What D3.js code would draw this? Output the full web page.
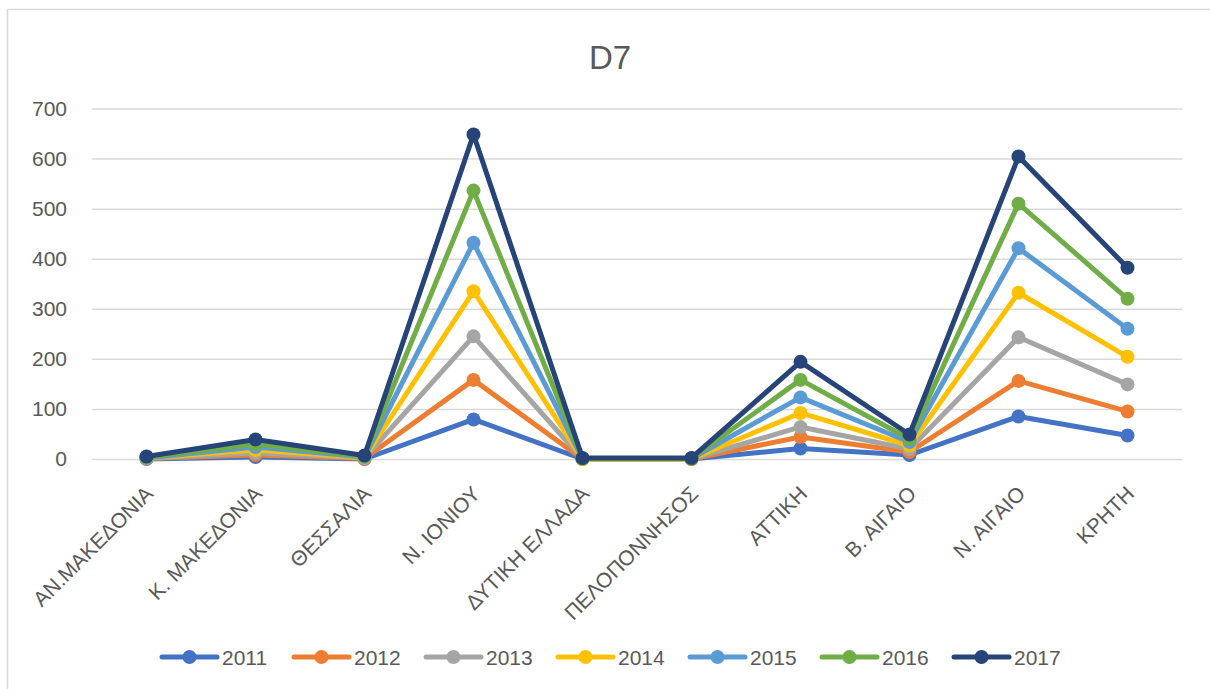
<!DOCTYPE html>
<html>
<head>
<meta charset="utf-8">
<script src="https://cdn.jsdelivr.net/npm/d3@7"></script>
<style>
  body { margin: 0; background: #fff; }
  svg { display: block; font-family: "Liberation Sans", Arial, sans-serif; }
</style>
</head>
<body>
<div id="chart"></div>
<script>
// categories (regions)
const regions = [
  "ΑΝ.ΜΑΚΕΔΟΝΙΑ", "Κ. ΜΑΚΕΔΟΝΙΑ", "ΘΕΣΣΑΛΙΑ", "Ν. ΙΟΝΙΟΥ", "ΔΥΤΙΚΗ ΕΛΛΑΔΑ",
  "ΠΕΛΟΠΟΝΝΗΣΟΣ", "ΑΤΤΙΚΗ", "Β. ΑΙΓΑΙΟ", "Ν. ΑΙΓΑΙΟ", "ΚΡΗΤΗ"
];

// one array per year
const y2011 = [0, 4, 0, 79, 0, 0, 21, 8, 85, 47];
const y2012 = [1, 8, 1, 158, 0, 0, 44, 14, 156, 95];
const y2013 = [1, 12, 2, 245, 0, 0, 64, 20, 243, 149];
const y2014 = [2, 18, 3, 335, 0, 0, 92, 27, 332, 204];
const y2015 = [2, 24, 4, 432, 1, 1, 123, 34, 421, 260];
const y2016 = [3, 30, 5, 536, 1, 1, 158, 40, 510, 320];
const y2017 = [5, 39, 7, 648, 2, 2, 194, 49, 604, 382];

const years = ["2011", "2012", "2013", "2014", "2015", "2016", "2017"];
const yTicks = [0, 100, 200, 300, 400, 500, 600, 700];

const series = [y2011, y2012, y2013, y2014, y2015, y2016, y2017].map((vals, i) => ({
  year: years[i],
  values: vals
}));

const colors = ["#4472C4", "#ED7D31", "#A5A5A5", "#FFC000", "#5B9BD5", "#70AD47", "#264478"];

const width = 1210;
const height = 689;
const margin = { top: 108.5, right: 28, bottom: 230, left: 92 };

const svg = d3.select("#chart")
  .append("svg")
  .attr("width", width)
  .attr("height", height);

// chart frame
svg.append("rect")
  .attr("x", 7.5)
  .attr("y", 9.5)
  .attr("width", width + 20)
  .attr("height", height + 20)
  .attr("fill", "#fff")
  .attr("stroke", "#d9d9d9")
  .attr("stroke-width", 1.5);

// title
svg.append("text")
  .attr("x", 610)
  .attr("y", 69)
  .attr("text-anchor", "middle")
  .attr("fill", "#595959")
  .attr("font-size", 33)
  .text("D7");

const x = d3.scaleBand()
  .domain(regions)
  .range([margin.left, width - margin.right]);

const y = d3.scaleLinear()
  .domain([0, 700])
  .range([height - margin.bottom, margin.top]);

// gridlines + y labels
const yAxis = svg.append("g")
  .attr("transform", `translate(${margin.left},0)`)
  .call(d3.axisLeft(y)
    .tickValues(yTicks)
    .tickSize(-(width - margin.right - margin.left))
    .tickPadding(25));

yAxis.select(".domain").remove();
yAxis.selectAll(".tick line")
  .attr("stroke", "#d9d9d9")
  .attr("stroke-width", 1.5);
yAxis.selectAll(".tick text")
  .attr("fill", "#595959")
  .attr("font-size", 21)
  .attr("font-family", "Liberation Sans, Arial, sans-serif");

// x labels, rotated
svg.append("g")
  .selectAll("text")
  .data(regions)
  .enter()
  .append("text")
  .attr("transform", (d) => `translate(${x(d) + x.bandwidth() / 2 + 8},${495}) rotate(-45)`)
  .attr("text-anchor", "end")
  .attr("fill", "#595959")
  .attr("font-size", 21)
  .text((d) => d);

const line = d3.line()
  .x((d, i) => x(regions[i]) + x.bandwidth() / 2)
  .y((d) => y(d));

// lines and markers
series.forEach((s, i) => {
  const g = svg.append("g");
  g.append("path")
    .datum(s.values)
    .attr("fill", "none")
    .attr("stroke", colors[i])
    .attr("stroke-width", 5)
    .attr("stroke-linejoin", "round")
    .attr("d", line);
  g.selectAll("circle")
    .data(s.values)
    .enter()
    .append("circle")
    .attr("cx", (d, j) => x(regions[j]) + x.bandwidth() / 2)
    .attr("cy", (d) => y(d))
    .attr("r", 7)
    .attr("fill", colors[i]);
});

// legend
const legend = svg.append("g")
  .selectAll("g")
  .data(series)
  .enter()
  .append("g")
  .attr("transform", (d, i) => `translate(${162 + i * 132},657)`);

legend.append("line")
  .attr("x1", 0)
  .attr("x2", 55)
  .attr("stroke", (d, i) => colors[i])
  .attr("stroke-width", 5)
  .attr("stroke-linecap", "round");

legend.append("circle")
  .attr("cx", 27.5)
  .attr("r", 7)
  .attr("fill", (d, i) => colors[i]);

legend.append("text")
  .attr("x", 60)
  .attr("y", 7.5)
  .attr("fill", "#595959")
  .attr("font-size", 21)
  .text((d) => d.year);
</script>
</body>
</html>
